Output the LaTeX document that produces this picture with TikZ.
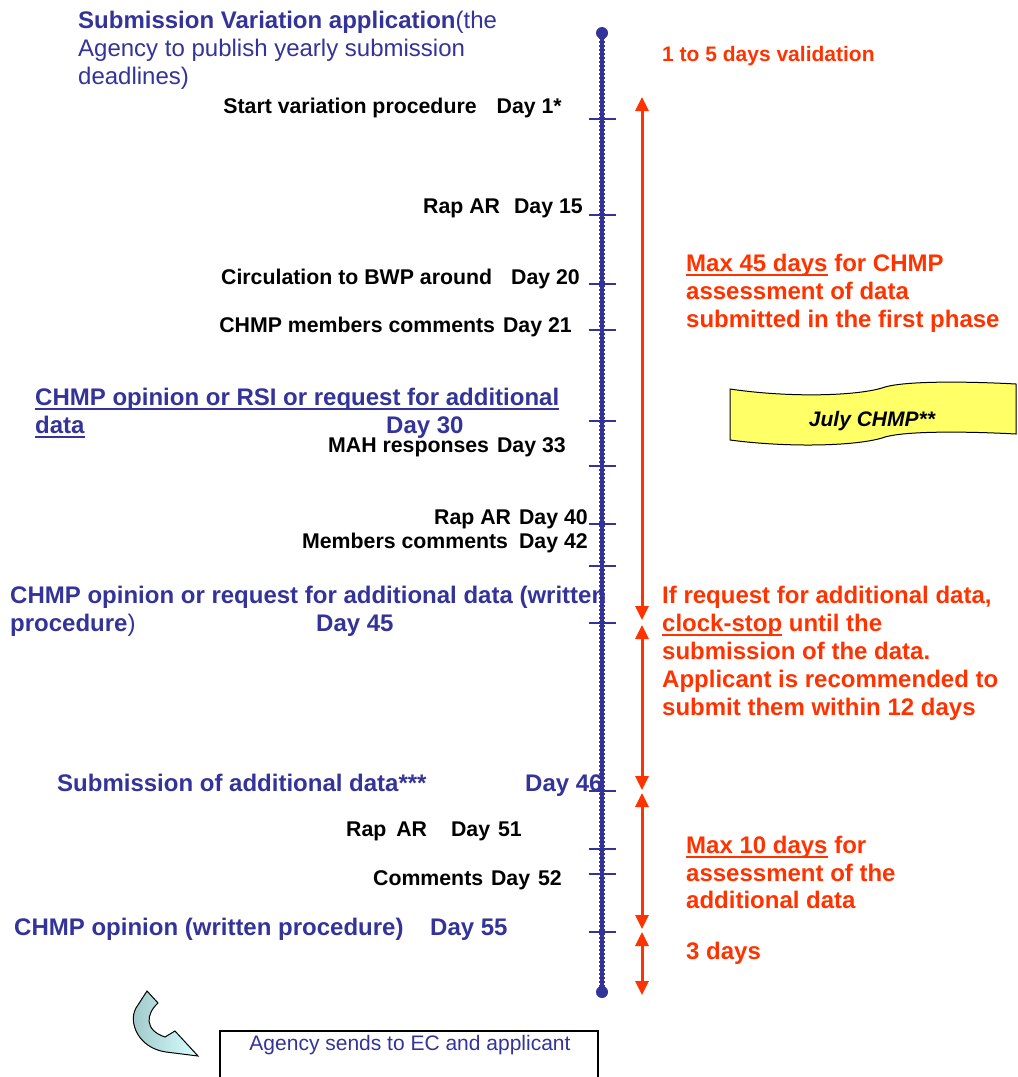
\documentclass[tikz,border=0pt]{standalone}
\usepackage{fontspec}
\setmainfont{Liberation Sans}
\usepackage{xcolor}
\usepackage{tikz}
\usetikzlibrary{arrows.meta}
\definecolor{emablue}{HTML}{333399}
\definecolor{emared}{HTML}{FF3300}
\definecolor{julyyellow}{HTML}{FFFF66}
\newcommand\undl[1]{\setbox0\hbox{#1}\rlap{\vrule width\wd0 height -2.6pt depth 4.8pt}\box0\relax}
\begin{document}
\begin{tikzpicture}[x=1pt,y=-1pt,
  bluetxt/.style={text=emablue,font=\fontsize{24}{28}\selectfont,inner sep=0pt,anchor=base west},
  blktxt/.style={text=black,font=\fontsize{21.3}{25}\selectfont\bfseries,inner sep=0pt,anchor=base east},
  redtxt/.style={text=emared,font=\fontsize{24}{28}\selectfont\bfseries,inner sep=0pt,anchor=base west},
  redarrow/.style={draw=emared,line width=3pt,{Triangle[width=13pt,length=14pt]}-{Triangle[width=13pt,length=14pt]}}]
\useasboundingbox (0,0) rectangle (1018,1077);
% time line
\coordinate (top) at (602,33); \coordinate (bot) at (602,992);
\draw[emablue,line width=4pt] (top)--(bot);
\draw[emablue,line width=6.5pt,dash pattern=on 2pt off 2pt] (top)--(bot);
\fill[emablue] (top) circle (6); \fill[emablue] (bot) circle (6);
\foreach \y in {119,215,284,330,421,466,524,566,623,791,849,874,932}{\draw[emablue,line width=2pt] (589,\y)--(616,\y);}
% red periods
\coordinate (ra) at (642,97); \coordinate (rb) at (642,620);
\coordinate (rc) at (642,625); \coordinate (rd) at (642,790);
\coordinate (re) at (642,793); \coordinate (rf) at (642,929);
\coordinate (rg) at (642,932); \coordinate (rh) at (642,995);
\draw[redarrow] (ra)--(rb); \draw[redarrow] (rc)--(rd); \draw[redarrow] (re)--(rf); \draw[redarrow] (rg)--(rh);
% blue milestones
\node[bluetxt] (sub1) at (78,28){\textbf{Submission Variation application}(the};
\node[bluetxt] (sub2) at (78,56){Agency to publish yearly submission};
\node[bluetxt] (sub3) at (78,84){deadlines)};
\node[bluetxt] (op30a) at (35,405){\undl{\textbf{CHMP opinion or RSI or request for additional}}};
\node[bluetxt] (op30b) at (35,433){\undl{\textbf{data}}};
\node[bluetxt] (day30) at (386,433){\textbf{Day 30}};
\node[bluetxt] (op45a) at (10,603){\textbf{CHMP opinion or request for additional data (written}};
\node[bluetxt] (op45b) at (10,631){\textbf{procedure})};
\node[bluetxt] (day45) at (316,631){\textbf{Day 45}};
\node[bluetxt] (add46) at (57,791){\textbf{Submission of additional data***}};
\node[bluetxt] (day46) at (525,791){\textbf{Day 46}};
\node[bluetxt] (op55) at (14,935){\textbf{CHMP opinion (written procedure)}};
\node[bluetxt] (day55) at (430,935){\textbf{Day 55}};
% black steps
\node[blktxt] (start) at (562,113.5){Start variation procedure\hspace{20pt}Day 1*};
\node[blktxt] (rap15) at (583,213.5){Rap AR\hspace{14pt}Day 15};
\node[blktxt] (circ20) at (580,284.5){Circulation to BWP around\hspace{19pt}Day 20};
\node[blktxt] (mem21) at (572,332.5){CHMP members comments\hspace{8pt}Day 21};
\node[blktxt] (mah33) at (566,452.5){MAH responses\hspace{8pt}Day 33};
\node[blktxt] (rap40) at (588,524.5){Rap AR\hspace{8pt}Day 40};
\node[blktxt] (mem42) at (588,548.5){Members comments\hspace{11pt}Day 42};
\node[blktxt] (rap51) at (522,836.5){Rap\hspace{4pt} AR\hspace{24pt}Day\hspace{2pt} 51};
\node[blktxt] (com52) at (562,885.5){Comments\hspace{2pt} Day\hspace{2pt} 52};
% red notes
\node[redtxt,font=\fontsize{21}{25}\selectfont\bfseries] (valid) at (662,61.5){1 to 5 days validation};
\node[redtxt] (max45a) at (686,271){\undl{Max 45 days} for CHMP};
\node[redtxt] (max45b) at (686,299){assessment of data};
\node[redtxt] (max45c) at (686,327){submitted in the first phase};
\node[redtxt] (stop1) at (662,603){If request for additional data,};
\node[redtxt] (stop2) at (662,631){\undl{clock-stop} until the};
\node[redtxt] (stop3) at (662,659){submission of the data.};
\node[redtxt] (stop4) at (662,687){Applicant is recommended to};
\node[redtxt] (stop5) at (662,715){submit them within 12 days};
\node[redtxt] (max10a) at (686,853){\undl{Max 10 days} for};
\node[redtxt] (max10b) at (686,881){assessment of the};
\node[redtxt] (max10c) at (686,908){additional data};
\node[redtxt] (three) at (686,959){3 days};
% July banner
\filldraw[fill=julyyellow,draw=black,line width=1pt] (730,389) .. controls (790,398) and (860,396) .. (885,387) .. controls (910,380) and (980,382) .. (1016,384) -- (1016,434) .. controls (980,432) and (910,430) .. (885,437) .. controls (860,446) and (790,448) .. (730,440) -- cycle;
\node[font=\fontsize{21}{24}\selectfont\bfseries\itshape,inner sep=0pt] (july) at (872,421){July CHMP**};
% bent arrow and box
\draw[left color=gray!30!teal!45,right color=cyan!15,draw=black,line width=1pt] (147,991) -- (158,1003) .. controls (146,1014) and (144,1030) .. (165,1037) -- (175,1031) -- (198,1056) -- (166,1052) .. controls (138,1048) and (128,1022) .. (136,1008) -- cycle;
\node[text=emablue,font=\fontsize{21}{25}\selectfont,inner sep=0pt] (agency) at (410,1045){Agency sends to EC and applicant};
\draw[line width=1.2pt] (220,1077)--(220,1031)--(598,1031)--(598,1077);
\end{tikzpicture}
\end{document}
